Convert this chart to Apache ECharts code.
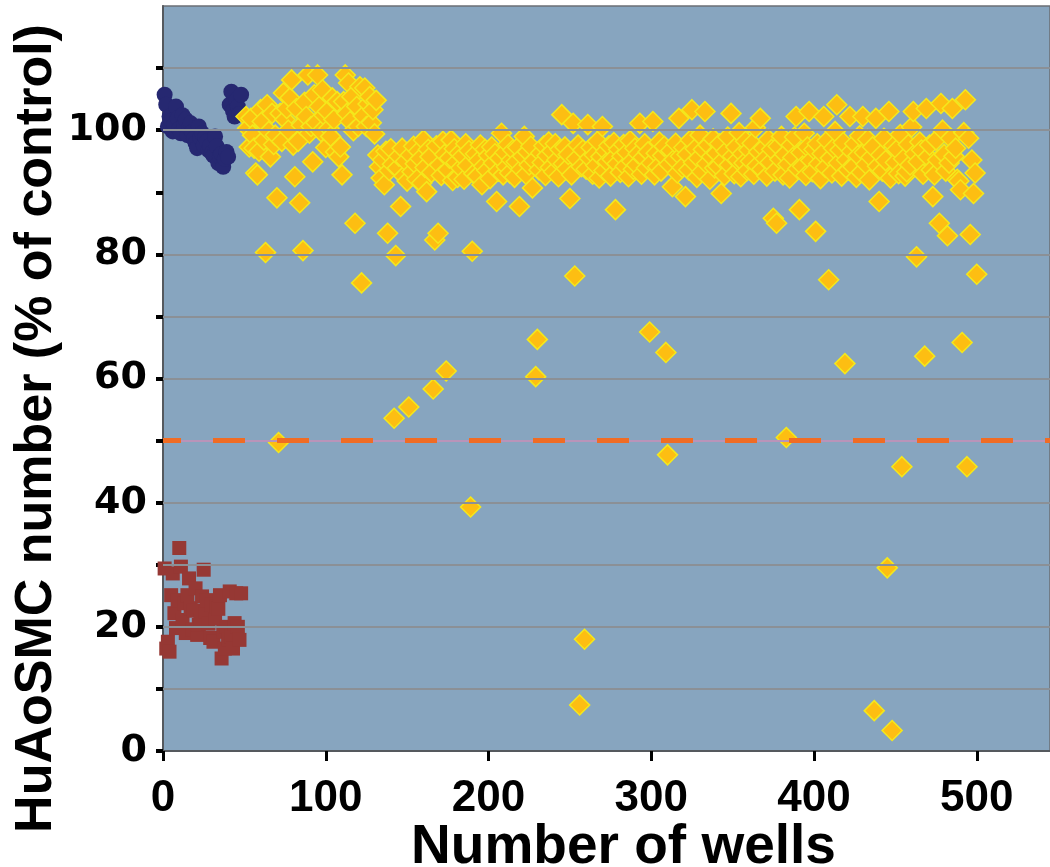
<!DOCTYPE html>
<html>
<head>
<meta charset="utf-8">
<script src="https://cdn.jsdelivr.net/npm/echarts@6/dist/echarts.min.js"></script>
<style>
  html, body { margin: 0; padding: 0; background: #ffffff; }
  #chart { width: 1050px; height: 867px; }
</style>
</head>
<body>
<div id="chart"></div>
<script>
// axis ticks / labels
const xTicks = [0, 100, 200, 300, 400, 500]
const yTicks = [0, 10, 20, 30, 40, 50, 60, 70, 80, 90, 100, 110]
const yLabels = [0, 20, 40, 60, 80, 100]
// horizontal grid lines in the plot (no line at 90 in the original)
const gridValues = [10, 20, 30, 40, 50, 60, 70, 80, 100, 110]
const threshold = 50

// positive controls (navy circles), wells 1..48
const navyWells = [1, 2, 3, 4, 5, 6, 7, 8, 9, 10, 11, 12, 13, 14, 15, 16, 17, 18, 19, 20, 21, 22, 23, 24,
  25, 26, 27, 28, 29, 30, 31, 32, 33, 34, 35, 36, 37, 38, 39, 40, 41, 42, 43, 44, 45, 46, 47, 48]
const navyValues = [105.7, 104.1, 100.6, 102.2, 101.5, 99.8, 100.9, 103.8, 101.9, 100.2, 99.5, 102.4,
  100.8, 101.7, 99.2, 100.4, 101.1, 99.7, 98.6, 97.9, 97.1, 100.6, 98.8, 99.5,
  97.6, 98.9, 98.2, 96.8, 97.5, 96.3, 95.9, 99, 97.4, 94.7, 95.8, 96.2,
  94.1, 95.4, 96.5, 95.7, 104.1, 106.2, 103.1, 102.2, 104.8, 103.8, 102.6, 105.7]

// negative controls (red squares), wells 1..48
const redWells = navyWells
const redValues = [29.4, 16.5, 17.6, 16, 25.1, 28.6, 22.2, 19.8, 24.3, 32.7, 29.7, 21.1,
  23.8, 19, 25.1, 27.8, 23, 19.6, 22.6, 26.2, 18.7, 20.3, 21.1, 24.9,
  29.2, 22.4, 24.3, 20.5, 18.2, 23.6, 17.6, 21.4, 23.2, 22.9, 25.1, 14.9,
  19.2, 16.5, 20, 17.9, 25.7, 18.4, 16.5, 20.6, 25.4, 20, 17.9, 25.4]

// screened compounds (yellow diamonds), wells 51..500
const yellowStart = 51
const yellowValues = [
  102.2, 100.3, 97.3, 101.9, 99.2, 97.1, 93.1, 92.8, 96.6, 103.3,   // 51-60
  101.4, 98.4, 80.3, 104.1, 99.8, 95.7, 102.7, 97.7, 99.2, 89.1,    // 61-70
  49.7, 102.7, 98.2, 106, 101.7, 103.5, 100, 105.2, 108.1, 97.6,    // 71-80
  92.5, 103.5, 98.2, 88.3, 100.8, 80.6, 104.5, 102.2, 108.9, 99.5,  // 81-90
  100.6, 94.9, 105.7, 101.2, 108.9, 103.8, 99.8, 106.5, 102.4, 97.2, // 91-100
  103, 100.3, 99, 105.2, 101.7, 96.5, 104.6, 95.7, 97.3, 92.8,      // 101-110
  104.6, 108.9, 102.7, 107.6, 101.4, 105.4, 99.9, 85, 103.8, 100.6, // 111-120
  107, 75.4, 102.3, 106.8, 100.6, 104.2, 105.4, 101.2, 103.3, 99.4, // 121-130
  104.8, 96, 94.1, 92.3, 95.2, 91.2, 96.6, 83.4, 93.5, 97,          // 131-140
  94.5, 53.6, 79.8, 93.9, 95.8, 87.7, 97.1, 92.6, 95, 91.8,         // 141-150
  55.4, 96, 93.3, 97.4, 94.6, 92.1, 96.6, 95.4, 91.5, 98.4,         // 151-160
  94, 90.1, 96.9, 95.7, 93.2, 58.3, 82.3, 97.5, 83.4, 94.4,         // 161-170
  92.7, 98.2, 96.1, 61.2, 93.6, 95.5, 98.4, 91.9, 97, 94.8,         // 171-180
  92.4, 96.3, 93.9, 95.8, 92.1, 97.8, 94.3, 96.7, 39.3, 80.5,       // 181-190
  93, 96.2, 92.6, 95.1, 97.6, 91.2, 94.2, 96.9, 93.5, 95.9,         // 191-200
  92.2, 97.3, 94.7, 96.2, 88.5, 93.4, 95.5, 99.5, 92.8, 96.4,       // 201-210
  94.1, 97.7, 93.1, 95.2, 96.8, 92.4, 94.9, 97.2, 87.7, 93.7,       // 211-220
  95.8, 99, 92.9, 96.5, 94.4, 97.4, 90.7, 95.1, 60.3, 66.3,         // 221-230
  93.6, 96.3, 94.8, 97.5, 92.7, 95.9, 98.1, 94, 96.6, 93.3,         // 231-240
  97.8, 95.2, 92.5, 96.9, 102.5, 94.6, 97.3, 93.8, 96.1, 89,        // 241-250
  92.8, 101.1, 76.5, 95.4, 97.6, 7.4, 94.1, 96.8, 18, 93.7,         // 251-260
  100.9, 95.5, 97.2, 92.9, 96, 94.3, 98.2, 92.3, 95.7, 100.6,       // 261-270
  93.5, 96.6, 94.9, 97.5, 92.6, 95.3, 98, 87.2, 94.6, 96.9,         // 271-280
  93.2, 95.8, 97.7, 94.2, 96.4, 92.5, 98.3, 95, 93.7, 97.1,         // 281-290
  94.4, 96.2, 101.1, 92.9, 95.6, 97.8, 93.9, 96.5, 67.5, 94.7,      // 291-300
  101.4, 92.8, 96.3, 94.1, 98.1, 93.4, 95.9, 97.4, 64.2, 47.7,      // 301-310
  94.5, 96.7, 90.9, 95.3, 97.9, 93.1, 101.9, 95.8, 94, 97.2,        // 311-320
  89.3, 96.1, 93.6, 98.4, 103.3, 94.8, 97, 92.4, 95.5, 99.2,        // 321-330
  93.3, 96.9, 103, 94.6, 97.6, 92.1, 95.7, 98.6, 93.9, 96.3,        // 331-340
  94.2, 97.8, 89.8, 95.1, 92.7, 96.6, 98.9, 94.4, 102.7, 95.8,      // 341-350
  93, 97.3, 95.2, 99.6, 92.5, 96.2, 94.7, 98.2, 93.5, 96.8,         // 351-360
  95, 97.9, 92.9, 100.4, 94.3, 96.5, 101.9, 93.7, 97.1, 95.4,       // 361-370
  92.6, 98.5, 94.8, 96.9, 85.8, 93.4, 85, 97.4, 95.3, 99,           // 371-380
  92.8, 96.1, 50.5, 94.5, 92.3, 97.6, 95.6, 98.9, 102.2, 93.8,      // 381-390
  87.2, 96.4, 94.2, 99.5, 92.7, 97.3, 103, 95.1, 93.3, 96.9,        // 391-400
  83.7, 97.8, 94.6, 92.2, 96.2, 102.2, 94, 98.3, 75.9, 95.5,        // 401-410
  93.1, 97.1, 99.8, 104.1, 94.7, 96.8, 92.6, 98, 62.4, 95.2,        // 411-420
  93.6, 102.2, 96.6, 94.1, 97.8, 92.4, 95.9, 99.1, 93.2, 102.2,     // 421-430
  96.4, 94.5, 98.5, 92, 95.6, 97.3, 6.5, 101.9, 94.2, 88.5,         // 431-440
  96, 93.4, 98.7, 95.1, 29.5, 103, 92.3, 3.3, 97.5, 94.8,           // 441-450
  96.9, 93, 99.3, 45.8, 95.4, 92.6, 93.3, 97.7, 94.4, 100.5,        // 451-460
  103, 96.2, 79.6, 94.9, 98.1, 96.8, 92.9, 63.6, 103.5, 95.7,       // 461-470
  97.6, 93.6, 89.3, 92.8, 98.4, 95.2, 85, 104.3, 100, 96.1,         // 471-480
  93.4, 83, 94.7, 98.7, 103.5, 95.8, 97.1, 92.1, 91.8, 90.4,        // 481-490
  65.8, 99.6, 104.9, 45.8, 98.7, 83.2, 95.2, 89.8, 93.1, 76.8       // 491-500
]

const pair = (xs, ys) => ys.map((v, i) => [xs[i], v])
const navyData = pair(navyWells, navyValues)
const redData = pair(redWells, redValues)
const yellowData = yellowValues.map((v, i) => [yellowStart + i, v])

const chart = echarts.init(document.getElementById('chart'), null, { renderer: 'canvas' })

const option = {
  animation: false,
  backgroundColor: '#ffffff',
  grid: {
    left: 163,
    right: 0,
    top: 6,
    bottom: 116,
    containLabel: false,
    outerBoundsMode: 'none',
    show: true,
    backgroundColor: '#87a5bf',
    borderColor: '#6b6f75',
    borderWidth: 1.5,
  },
  xAxis: {
    type: 'value',
    min: 0,
    max: 545,
    interval: 100,
    name: 'Number of wells',
    nameLocation: 'middle',
    nameGap: 69,
    nameMoveOverlap: false,
    nameTextStyle: {
      fontFamily: 'Liberation Sans, Arial, sans-serif',
      fontWeight: 'bold',
      fontSize: 55,
      color: '#000',
      padding: [0, 0, 0, 34],
    },
    axisLine: { onZero: false, lineStyle: { color: '#55595e', width: 2 } },
    axisTick: { customValues: xTicks, length: 10, lineStyle: { color: '#000', width: 3 } },
    axisLabel: {
      customValues: xTicks,
      margin: 26,
      fontFamily: 'Liberation Sans, Arial, sans-serif',
      fontWeight: 'bold',
      fontSize: 44,
      color: '#000',
    },
    splitLine: { show: false },
  },
  yAxis: {
    type: 'value',
    min: 0,
    max: 120,
    interval: 10,
    name: 'HuAoSMC number (% of control)',
    nameLocation: 'middle',
    nameGap: 100,
    nameMoveOverlap: false,
    nameTextStyle: {
      fontFamily: 'Liberation Sans, Arial, sans-serif',
      fontWeight: 'bold',
      fontSize: 52,
      color: '#000',
      padding: [0, 100, 0, 0],
    },
    axisLine: { show: true, onZero: false, lineStyle: { color: '#55595e', width: 2 } },
    axisTick: { customValues: yTicks, length: 7, lineStyle: { color: '#000', width: 4 } },
    axisLabel: {
      customValues: yLabels,
      margin: 16,
      fontFamily: 'DejaVu Sans, sans-serif',
      fontWeight: 'bold',
      fontSize: 38,
      color: '#000',
    },
    splitLine: { show: false },
  },
  series: [
    {
      // grid lines only
      type: 'scatter',
      z: 1,
      data: [],
      silent: true,
      markLine: {
        silent: true,
        symbol: 'none',
        label: { show: false },
        lineStyle: { color: '#8b9096', width: 2, type: 'solid' },
        data: gridValues.map(v => ({ yAxis: v })),
      },
    },
    {
      name: 'Negative control',
      type: 'scatter',
      z: 2,
      symbol: 'rect',
      symbolSize: 14,
      itemStyle: { color: '#963834', opacity: 1 },
      data: redData,
    },
    {
      name: 'Positive control',
      type: 'scatter',
      z: 3,
      symbol: 'circle',
      symbolSize: 16,
      itemStyle: { color: '#262871', opacity: 1 },
      data: navyData,
    },
    {
      name: 'Compounds',
      type: 'scatter',
      z: 4,
      symbol: 'diamond',
      symbolSize: 20,
      itemStyle: { color: '#fdbe12', borderColor: '#f4e81c', borderWidth: 1.5, opacity: 1 },
      data: yellowData,
    },
    {
      // 50% cut-off line
      type: 'scatter',
      z: 5,
      data: [],
      silent: true,
      markLine: {
        silent: true,
        symbol: 'none',
        label: { show: false },
        data: [
          { yAxis: threshold, lineStyle: { color: '#c896c4', width: 1.5, type: 'solid' } },
          { yAxis: threshold, lineStyle: { color: '#f06c24', width: 5, type: [32, 32], dashOffset: 14 } },
        ],
      },
    },
  ],
}

chart.setOption(option)
</script>
</body>
</html>
